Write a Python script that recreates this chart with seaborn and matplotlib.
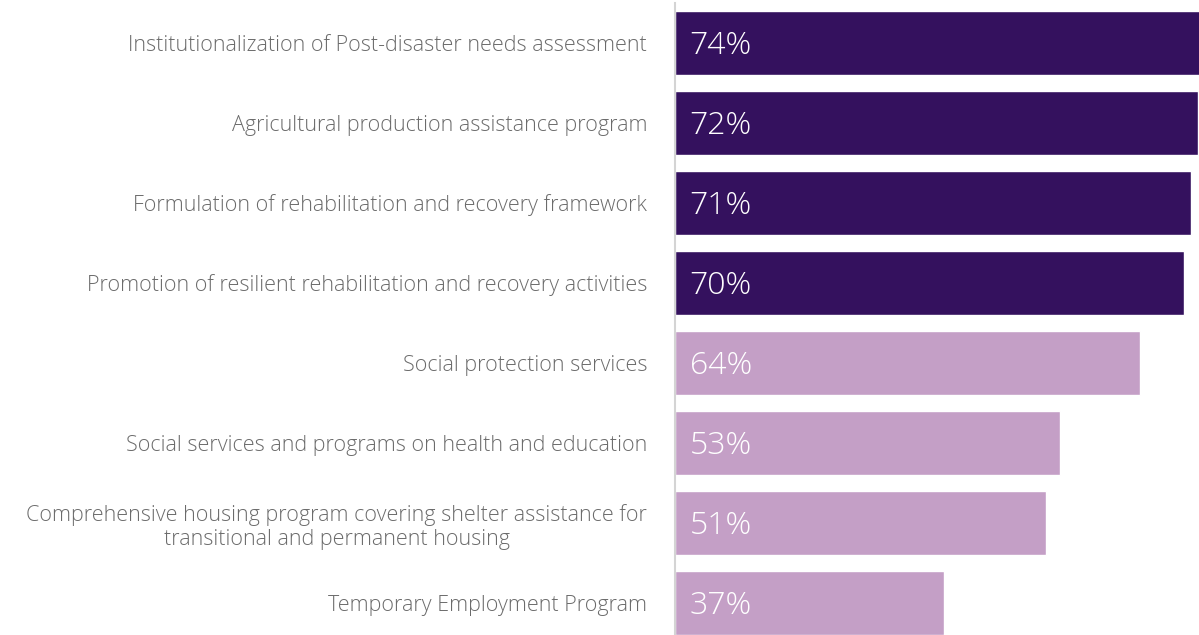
import matplotlib
matplotlib.use("Agg")
import matplotlib.pyplot as plt
import seaborn as sns
import pandas as pd

categories = [
    "Institutionalization of Post-disaster needs assessment",
    "Agricultural production assistance program",
    "Formulation of rehabilitation and recovery framework",
    "Promotion of resilient rehabilitation and recovery activities",
    "Social protection services",
    "Social services and programs on health and education",
    "Comprehensive housing program covering shelter assistance for\ntransitional and permanent housing",
    "Temporary Employment Program",
]
values = [74, 72, 71, 70, 64, 53, 51, 37]
groups = ["top", "top", "top", "top", "other", "other", "other", "other"]

palette = {"top": "#34115E", "other": "#C49FC6"}

sns.set_theme(style="white")
plt.rcParams["font.family"] = ["Open Sans", "DejaVu Sans"]

df = pd.DataFrame({"category": categories, "value": values, "group": groups})

fig = plt.figure(figsize=(11.99, 6.35), dpi=100)
ax = fig.add_axes([675 / 1199, 0, 1 - 675 / 1199, 632 / 635])

sns.barplot(data=df, y="category", x="value", hue="group", palette=palette,
            dodge=False, width=0.8, legend=False, ax=ax, orient="h", saturation=1)

ax.set_xlim(0, 72.1)
ax.set_ylim(7.4, -0.5)
ax.set_xlabel("")
ax.set_ylabel("")
ax.set_xticks([])
ax.set_yticks(range(len(categories)))
ax.set_yticklabels(categories, fontsize=15.5, color="#6b6b6b", fontweight="light",
                   multialignment="center")
ax.tick_params(axis="y", length=0, pad=20)

for s in ["top", "right", "bottom"]:
    ax.spines[s].set_visible(False)
ax.spines["left"].set_color("#d4d4d4")
ax.spines["left"].set_linewidth(1.5)

for i, v in enumerate(values):
    ax.text(2.0, i + 0.04, f"{v}%", color="white", fontsize=23, va="center", ha="left",
            fontweight="light")

fig.savefig("out.png", dpi=100)
